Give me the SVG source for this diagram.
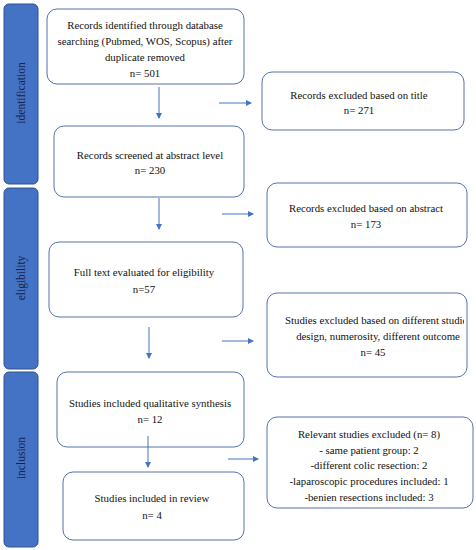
<svg xmlns="http://www.w3.org/2000/svg" width="476" height="550" viewBox="0 0 476 550">
<style>
.bar{fill:#4472C4;stroke:#2F528F;stroke-width:1}
.box{fill:#fff;stroke:#5673AE;stroke-width:1}
.t{font-family:"Liberation Serif","DejaVu Serif",serif;font-size:10.8px;fill:#111;text-anchor:middle}
.side{font-family:"Liberation Serif","DejaVu Serif",serif;font-size:11.5px;fill:#15244A;text-anchor:middle}
.c{stroke:#4472C4;stroke-width:1;fill:none;marker-end:url(#ah)}
</style>
<defs>
<marker id="ah" viewBox="0 0 6 6" refX="5" refY="3" markerWidth="6" markerHeight="6" orient="auto" markerUnits="userSpaceOnUse">
<path d="M0,0 L6,3 L0,6 z" fill="#4472C4"/>
</marker>
<clipPath id="clip5"><rect x="267" y="293" width="197" height="84"/></clipPath>
</defs>
<rect width="476" height="550" fill="#fff"/>
<g id="phase-identification">
<rect class="bar" x="4" y="4" width="34" height="180" rx="5"/>
<text class="side" transform="translate(25,93) rotate(-90)">identification</text>
</g>
<g id="phase-eligibility">
<rect class="bar" x="4" y="188" width="34" height="181" rx="5"/>
<text class="side" transform="translate(25,278) rotate(-90)">eligibility</text>
</g>
<g id="phase-inclusion">
<rect class="bar" x="4" y="372" width="34" height="175" rx="5"/>
<text class="side" transform="translate(25,458) rotate(-90)">inclusion</text>
</g>
<g id="n1">
<rect class="box" x="47" y="9" width="197" height="75" rx="10"/>
<text class="t" x="145" y="29">Records identified through database</text>
<text class="t" x="145" y="45">searching (Pubmed, WOS, Scopus) after</text>
<text class="t" x="145" y="61">duplicate removed</text>
<text class="t" x="145" y="77">n= 501</text>
</g>
<g id="n2">
<rect class="box" x="54" y="126" width="190" height="71" rx="10"/>
<text class="t" x="150" y="159">Records screened at abstract level</text>
<text class="t" x="150" y="174">n= 230</text>
</g>
<g id="n3">
<rect class="box" x="262" y="72" width="202" height="58" rx="10"/>
<text class="t" x="359" y="99">Records excluded based on title</text>
<text class="t" x="359" y="114">n= 271</text>
</g>
<g id="n4">
<rect class="box" x="267" y="183" width="200" height="64" rx="10"/>
<text class="t" x="366" y="212">Records excluded based on abstract</text>
<text class="t" x="366" y="228">n= 173</text>
</g>
<g id="n5">
<rect class="box" x="49" y="242" width="194" height="75" rx="10"/>
<text class="t" x="144" y="276">Full text evaluated for eligibility</text>
<text class="t" x="144" y="293">n=57</text>
</g>
<g id="n6">
<rect class="box" x="267" y="293" width="200" height="84" rx="10"/>
<text class="t" x="285" y="324" style="text-anchor:start" clip-path="url(#clip5)">Studies excluded based on different studies</text>
<text class="t" x="378" y="340">design, numerosity, different outcome</text>
<text class="t" x="373" y="356">n= 45</text>
</g>
<g id="n7">
<rect class="box" x="57" y="372" width="187" height="75" rx="10"/>
<text class="t" x="150" y="407">Studies included qualitative synthesis</text>
<text class="t" x="150" y="423">n= 12</text>
</g>
<g id="n8">
<rect class="box" x="63" y="472" width="181" height="68" rx="10"/>
<text class="t" x="152" y="502">Studies included in review</text>
<text class="t" x="152" y="519">n= 4</text>
</g>
<g id="n9">
<rect class="box" x="267" y="417" width="206" height="91" rx="10"/>
<text class="t" x="369" y="438">Relevant studies excluded (n= 8)</text>
<text class="t" x="369" y="454">- same patient group: 2</text>
<text class="t" x="369" y="469">-different colic resection: 2</text>
<text class="t" x="369" y="485">-laparoscopic procedures included: 1</text>
<text class="t" x="369" y="501">-benien resections included: 3</text>
</g>
<g id="connectors">
<line class="c" x1="159" y1="87" x2="159" y2="118"/>
<line class="c" x1="219" y1="103" x2="251" y2="103"/>
<line class="c" x1="159" y1="198" x2="159" y2="229"/>
<line class="c" x1="222" y1="214" x2="253" y2="214"/>
<line class="c" x1="149" y1="327" x2="149" y2="358"/>
<line class="c" x1="222" y1="341" x2="253" y2="341"/>
<line class="c" x1="148" y1="436" x2="148" y2="467"/>
<line class="c" x1="228" y1="459" x2="258" y2="459"/>
</g>
</svg>
